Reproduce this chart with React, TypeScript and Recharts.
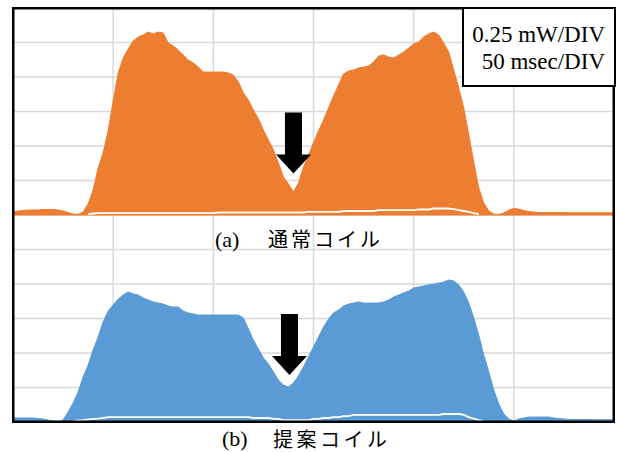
import React from 'react';
import {
  ComposedChart,
  Area,
  Line,
  XAxis,
  YAxis,
  CartesianGrid,
  ReferenceDot,
} from 'recharts';

// sampling grid of the scope traces (msec)
const SAMPLE_STEP_MS = 2.5;
const TIME_TICKS = [0, 50, 100, 150, 200, 250, 300];
const POWER_TICKS = [0, 0.25, 0.5, 0.75, 1, 1.25, 1.5, 1.75, 2, 2.25, 2.5, 2.75, 3];
// trace (a) is drawn 6 divisions above trace (b)
const TOP_OFFSET = 1.5;

// (a) 通常コイル - upper envelope, mW
const normalCoil = [
  0.022, 0.029, 0.033, 0.036, 0.036, 0.036, 0.040, 0.040, 0.040, 0.036,
  0.029, 0.018, 0.007, 0.004, 0.022, 0.080, 0.181, 0.341, 0.449, 0.609,
  0.826, 1.029, 1.138, 1.203, 1.261, 1.290, 1.304, 1.326, 1.312, 1.326,
  1.319, 1.246, 1.225, 1.196, 1.159, 1.123, 1.101, 1.072, 1.036, 1.036,
  1.036, 1.036, 1.036, 1.029, 1.014, 0.964, 0.884, 0.833, 0.761, 0.696,
  0.616, 0.543, 0.471, 0.377, 0.275, 0.225, 0.167, 0.232, 0.348, 0.435,
  0.522, 0.609, 0.688, 0.775, 0.862, 0.942, 1.022, 1.043, 1.051, 1.065,
  1.072, 1.080, 1.109, 1.152, 1.159, 1.145, 1.138, 1.159, 1.181, 1.210,
  1.239, 1.254, 1.290, 1.312, 1.326, 1.304, 1.246, 1.181, 1.051, 0.920,
  0.775, 0.580, 0.384, 0.196, 0.087, 0.029, 0.007, 0.004, 0.014, 0.036,
  0.047, 0.043, 0.033, 0.025, 0.022, 0.018, 0.018, 0.018, 0.018, 0.018,
  0.018, 0.016, 0.016, 0.016, 0.016, 0.016, 0.016, 0.016, 0.016, 0.016,
  0.016,
];

// (a) lower envelope of the oscillation (white gap)
const normalCoilLow = [
  null, null, null, null, null, null, null, null, null, null,
  null, null, null, null, null, 0.007, 0.011, 0.014, 0.014, 0.014,
  0.014, 0.014, 0.014, 0.014, 0.014, 0.014, 0.014, 0.014, 0.014, 0.014,
  0.014, 0.014, 0.014, 0.014, 0.014, 0.014, 0.014, 0.014, 0.014, 0.014,
  0.014, 0.018, 0.018, 0.018, 0.018, 0.018, 0.018, 0.018, 0.018, 0.018,
  0.018, 0.018, 0.018, 0.018, 0.018, 0.018, 0.018, 0.018, 0.018, 0.022,
  0.022, 0.022, 0.022, 0.022, 0.022, 0.022, 0.029, 0.029, 0.029, 0.029,
  0.029, 0.029, 0.029, 0.036, 0.036, 0.036, 0.036, 0.036, 0.036, 0.036,
  0.036, 0.040, 0.040, 0.040, 0.047, 0.047, 0.047, 0.047, 0.043, 0.036,
  0.029, 0.022, 0.014, 0.007, null, null, null, null, null, null,
  null, null, null, null, null, null, null, null, null, null,
  null, null, null, null, null, null, null, null, null, null,
  null,
];

// (b) 提案コイル - upper envelope, mW
const proposedCoil = [
  0.029, 0.029, 0.029, 0.029, 0.029, 0.025, 0.022, 0.014, 0.007, 0.004,
  0.014, 0.072, 0.138, 0.217, 0.326, 0.413, 0.522, 0.616, 0.725, 0.804,
  0.848, 0.891, 0.920, 0.942, 0.928, 0.920, 0.899, 0.884, 0.870, 0.862,
  0.855, 0.841, 0.833, 0.833, 0.804, 0.790, 0.783, 0.775, 0.775, 0.775,
  0.775, 0.775, 0.775, 0.775, 0.775, 0.775, 0.754, 0.674, 0.594, 0.529,
  0.464, 0.420, 0.362, 0.304, 0.268, 0.254, 0.283, 0.333, 0.399, 0.471,
  0.543, 0.616, 0.688, 0.746, 0.790, 0.812, 0.841, 0.855, 0.862, 0.870,
  0.862, 0.862, 0.862, 0.862, 0.870, 0.884, 0.906, 0.920, 0.935, 0.949,
  0.971, 0.978, 0.986, 0.993, 1.000, 1.007, 1.014, 1.029, 1.022, 0.993,
  0.942, 0.862, 0.754, 0.630, 0.486, 0.362, 0.232, 0.130, 0.058, 0.022,
  0.007, 0.022, 0.029, 0.036, 0.036, 0.036, 0.036, 0.036, 0.029, 0.025,
  0.022, 0.018, 0.018, 0.018, 0.018, 0.018, 0.016, 0.016, 0.016, 0.016,
  0.016,
];

// (b) lower envelope of the oscillation (white gap)
const proposedCoilLow = [
  null, null, null, null, null, null, null, null, null, null,
  null, null, 0.007, 0.011, 0.014, 0.018, 0.022, 0.025, 0.029, 0.036,
  0.036, 0.036, 0.036, 0.036, 0.036, 0.036, 0.036, 0.036, 0.036, 0.036,
  0.036, 0.036, 0.036, 0.036, 0.036, 0.036, 0.036, 0.036, 0.036, 0.036,
  0.036, 0.036, 0.036, 0.036, 0.036, 0.036, 0.036, 0.036, 0.029, 0.029,
  0.029, 0.029, 0.022, 0.022, 0.014, 0.014, 0.014, 0.014, 0.014, 0.014,
  0.022, 0.022, 0.029, 0.029, 0.036, 0.036, 0.043, 0.043, 0.051, 0.051,
  0.051, 0.051, 0.051, 0.051, 0.051, 0.051, 0.051, 0.051, 0.051, 0.051,
  0.051, 0.051, 0.051, 0.051, 0.051, 0.051, 0.058, 0.058, 0.058, 0.058,
  0.051, 0.036, 0.025, 0.014, 0.007, null, null, null, null, null,
  null, null, null, null, null, null, null, null, null, null,
  null, null, null, null, null, null, null, null, null, null,
  null,
];

// black arrows marking the dip: tip time (msec) and level (mW, chart units)
const ARROW_TIME = [140, 138];
const ARROW_LEVEL = [1.8, 0.34];

const ORANGE = '#ED7D31';
const BLUE = '#5B9BD5';

const chartData = normalCoil.map((v, i) => ({
  t: i * SAMPLE_STEP_MS,
  a: [TOP_OFFSET, TOP_OFFSET + v],
  aLow: normalCoilLow[i] == null ? null : TOP_OFFSET + (normalCoilLow[i] as number),
  b: proposedCoil[i],
  bLow: proposedCoilLow[i],
}));

// down arrow with its tip on (cx, cy)
const DownArrow = (props: any) => {
  const { cx, cy } = props;
  const shaft = 8.5;
  const head = 17.5;
  const headH = 19;
  const len = 61;
  const pts = [
    [cx, cy],
    [cx - head, cy - headH],
    [cx - shaft, cy - headH],
    [cx - shaft, cy - len],
    [cx + shaft, cy - len],
    [cx + shaft, cy - headH],
    [cx + head, cy - headH],
  ]
    .map(p => p.join(','))
    .join(' ');
  return <polygon points={pts} fill="#000" />;
};

const serif = '"Liberation Serif", "Times New Roman", serif';
const jp = '"Noto Sans CJK JP", "Noto Sans", sans-serif';

const App: React.FC = () => {
  return (
    <div style={{ position: 'absolute', left: 0, top: 0, width: 617, height: 452, background: '#fff' }}>
      <ComposedChart
        width={617}
        height={452}
        data={chartData}
        margin={{ top: 8, right: 3, bottom: 30, left: 13 }}
      >
        <CartesianGrid stroke="#d9d9d9" strokeWidth={1.5} />
        <XAxis dataKey="t" type="number" domain={[0, 300]} ticks={TIME_TICKS} hide />
        <YAxis type="number" domain={[0, 3]} ticks={POWER_TICKS} hide />
        <Area
          dataKey="a"
          type="linear"
          fill={ORANGE}
          fillOpacity={1}
          stroke={ORANGE}
          strokeWidth={1}
          dot={false}
          activeDot={false}
          isAnimationActive={false}
        />
        <Line
          dataKey="aLow"
          type="linear"
          stroke="#fff"
          strokeWidth={1.8}
          dot={false}
          activeDot={false}
          isAnimationActive={false}
        />
        <Area
          dataKey="b"
          type="linear"
          fill={BLUE}
          fillOpacity={1}
          stroke={BLUE}
          strokeWidth={1}
          dot={false}
          activeDot={false}
          isAnimationActive={false}
        />
        <Line
          dataKey="bLow"
          type="linear"
          stroke="#fff"
          strokeWidth={1.8}
          dot={false}
          activeDot={false}
          isAnimationActive={false}
        />
        {ARROW_TIME.map((t, i) => (
          <ReferenceDot
            key={i}
            x={t}
            y={ARROW_LEVEL[i]}
            r={1}
            ifOverflow="visible"
            shape={DownArrow}
          />
        ))}
      </ComposedChart>

      {/* plot frame, overlay */}
      <svg
        width={617}
        height={452}
        style={{ position: 'absolute', left: 0, top: 0, pointerEvents: 'none' }}
      >
        <rect x={13.25} y={8.25} width={600.5} height={413.5} fill="none" stroke="#000" strokeWidth={2.5} />
      </svg>

      {/* scale box */}
      <div
        style={{
          position: 'absolute',
          left: 462,
          top: 7,
          width: 154,
          height: 80,
          boxSizing: 'border-box',
          border: '2.5px solid #000',
          background: '#fff',
          paddingTop: 12,
          paddingRight: 9,
          textAlign: 'right',
          fontFamily: serif,
          fontSize: 23,
          lineHeight: '27px',
          color: '#000',
        }}
      >
        <div>0.25 mW/DIV</div>
        <div>50 msec/DIV</div>
      </div>

      {/* captions */}
      <div style={{ position: 'absolute', left: 215, top: 228, fontFamily: serif, fontSize: 22, lineHeight: '24px', whiteSpace: 'nowrap' }}>
        (a)
      </div>
      <div style={{ position: 'absolute', left: 268, top: 229, fontFamily: jp, fontSize: 20, lineHeight: '20px', letterSpacing: 3, whiteSpace: 'nowrap' }}>
        通常コイル
      </div>
      <div style={{ position: 'absolute', left: 222, top: 427, fontFamily: serif, fontSize: 22, lineHeight: '24px', whiteSpace: 'nowrap' }}>
        (b)
      </div>
      <div style={{ position: 'absolute', left: 273, top: 429, fontFamily: jp, fontSize: 20, lineHeight: '20px', letterSpacing: 3.5, whiteSpace: 'nowrap' }}>
        提案コイル
      </div>
    </div>
  );
};

export default App;
